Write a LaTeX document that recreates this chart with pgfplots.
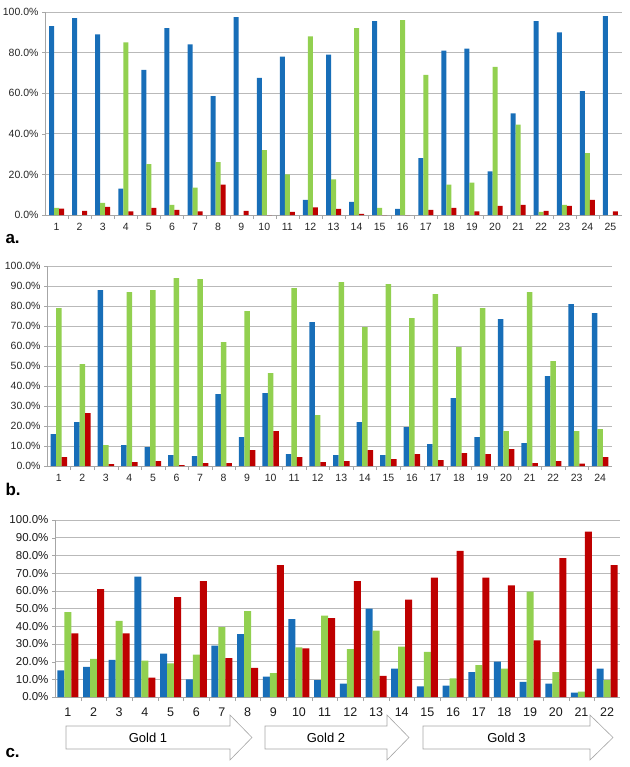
\documentclass[border=0pt]{standalone}
\usepackage{pgfplots}
\pgfplotsset{compat=1.18}
\usepackage{pgfplotstable}
\usepackage{fontspec}
\setmainfont{Liberation Sans}

\definecolor{cblue}{RGB}{24,110,184}
\definecolor{cgreen}{RGB}{146,208,80}
\definecolor{cred}{RGB}{190,0,0}

% group, blue, green, red (percent)
\pgfplotstableread{
x b g r
1 93 3.5 3.2
2 97 0 2
3 89 6 4
4 13 85 1.8
5 71.5 25 3.5
6 92 5 2.5
7 84 13.5 1.8
8 58.5 26 15
9 97.5 0 2
10 67.5 32 0
11 78 20 1.5
12 7.5 88 3.8
13 79 17.5 3
14 6.5 92 0.5
15 95.5 3.5 0
16 3 96 0
17 28 69 2.5
18 81 15 3.5
19 82 16 1.8
20 21.5 73 4.5
21 50 44.5 5
22 95.5 1.5 2
23 90 5 4.5
24 61 30.5 7.5
25 98 0 1.8
}\panelA

\pgfplotstableread{
x b g r
1 16 79 4.5
2 22 51 26.5
3 88 10.5 1
4 10.5 87 2
5 9.5 88 2.5
6 5.5 94 0.5
7 5 93.5 1.5
8 36 62 1.5
9 14.5 77.5 8
10 36.5 46.5 17.5
11 6 89 4.5
12 72 25.5 2
13 5.5 92 2.5
14 22 69.5 8
15 5.5 91 3.5
16 19.5 74 6
17 11 86 3
18 34 59.5 6.5
19 14.5 79 6
20 73.5 17.5 8.5
21 11.5 87 1.5
22 45 52.5 2.5
23 81 17.5 1.2
24 76.5 18.5 4.5
}\panelB

\pgfplotstableread{
x b g r
1 15 48 36
2 17 21.5 61
3 21 43 36
4 68 20.5 11
5 24.5 19 56.5
6 10 24 65.5
7 29 39.5 22
8 35.5 48.5 16.5
9 11.5 13.5 74.5
10 44 28 27.5
11 9.5 46 44.5
12 7.5 27 65.5
13 50 37.5 12
14 16 28.5 55
15 6 25.5 67.5
16 6.5 10.5 82.5
17 14 18 67.5
18 20 16 63
19 8.5 59.5 32
20 7.5 14 78.5
21 2.5 3 93.5
22 16 9.5 74.5
}\panelC

\pgfplotsset{
panel/.style={
  scale only axis, anchor=south west,
  ybar=0pt, ymin=0, ymax=100,
  axis lines*=left,
  axis line style={gray!70}, tick style={gray!70},
  ymajorgrids, grid style={gray!55, line width=0.6pt},
  tick align=outside, xtick pos=bottom, ytick pos=left,
  major tick length=3pt, minor tick length=4pt,
  major x tick style={draw=none},
  /pgf/number format/assume math mode=true,
  clip=false,
  every axis plot/.append style={draw=none},
},
}

\begin{document}
\begin{tikzpicture}
\path[use as bounding box] (0pt,0pt) rectangle (629pt,-767pt);

% panel a
\begin{axis}[panel, at={(45pt,-215pt)}, width=577pt, height=203pt,
  bar width=5pt, xmin=0.5, xmax=25.5,
  xtick={1,...,25}, minor xtick={1.5,2.5,...,24.5},
  ytick={0,20,...,100},
  yticklabels={0.0\%,20.0\%,40.0\%,60.0\%,80.0\%,100.0\%},
  ticklabel style={font=\fontsize{10.5}{12}\selectfont, text=black!85},
  xticklabel style={yshift=-2pt}]
\addplot[fill=cblue] table[x=x,y=b]{\panelA};
\addplot[fill=cgreen] table[x=x,y=g]{\panelA};
\addplot[fill=cred] table[x=x,y=r]{\panelA};
\end{axis}

% panel b
\begin{axis}[panel, at={(47pt,-466pt)}, width=565pt, height=200pt,
  bar width=5.5pt, xmin=0.5, xmax=24.5,
  xtick={1,...,24}, minor xtick={1.5,2.5,...,23.5},
  ytick={0,10,...,100},
  yticklabels={0.0\%,10.0\%,20.0\%,30.0\%,40.0\%,50.0\%,60.0\%,70.0\%,80.0\%,90.0\%,100.0\%},
  ticklabel style={font=\fontsize{10.5}{12}\selectfont, text=black!85},
  xticklabel style={yshift=-2pt}]
\addplot[fill=cblue] table[x=x,y=b]{\panelB};
\addplot[fill=cgreen] table[x=x,y=g]{\panelB};
\addplot[fill=cred] table[x=x,y=r]{\panelB};
\end{axis}

% panel c
\begin{axis}[panel, at={(55pt,-697pt)}, width=565pt, height=177pt,
  bar width=7pt, xmin=0.5, xmax=22.5,
  xtick={1,...,22}, minor xtick={1.5,2.5,...,21.5},
  ytick={0,10,...,100},
  yticklabels={0.0\%,10.0\%,20.0\%,30.0\%,40.0\%,50.0\%,60.0\%,70.0\%,80.0\%,90.0\%,100.0\%},
  yticklabel style={font=\fontsize{11.5}{13}\selectfont, text=black!90},
  xticklabel style={font=\fontsize{12.5}{14}\selectfont, text=black!90, yshift=-4pt}]
\addplot[fill=cblue] table[x=x,y=b]{\panelC};
\addplot[fill=cgreen] table[x=x,y=g]{\panelC};
\addplot[fill=cred] table[x=x,y=r]{\panelC};
\end{axis}

% group arrows
\foreach \xa/\xb/\xc/\lab in {66/230/252/Gold 1, 265/387/409/Gold 2, 423/590/613/Gold 3}{
  \draw[gray!70, fill=white, line width=0.6pt]
    (\xa pt,-726pt) -- (\xb pt,-726pt) -- (\xb pt,-715pt) -- (\xc pt,-737.5pt)
    -- (\xb pt,-760pt) -- (\xb pt,-749pt) -- (\xa pt,-749pt) -- cycle;
  \pgfmathsetmacro{\xm}{(\xa+\xb)/2}
  \node[font=\fontsize{13}{15}\selectfont] at (\xm pt,-737.5pt) {\lab};
}

% panel letters
\node[anchor=west, font=\bfseries\fontsize{17}{19}\selectfont] at (2pt,-239pt) {a.};
\node[anchor=west, font=\bfseries\fontsize{17}{19}\selectfont] at (2pt,-489pt) {b.};
\node[anchor=west, font=\bfseries\fontsize{17}{19}\selectfont] at (2pt,-753pt) {c.};
\end{tikzpicture}
\end{document}
